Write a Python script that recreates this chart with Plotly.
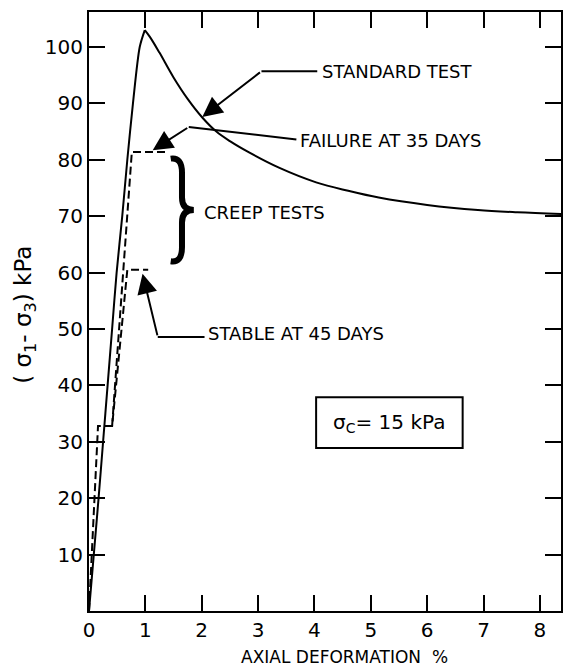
import plotly.graph_objects as go

# Standard test curve (axial deformation %, deviator stress kPa)
rise_x = [0, 0.085, 0.17, 0.25, 0.33, 0.41, 0.49, 0.59, 0.68, 0.78, 0.90, 0.99]
rise_y = [0, 10, 20, 30, 40, 50, 60, 70, 80, 90, 100, 103]
decay_x = [0.99, 1.08, 1.25, 1.50, 1.75, 2.01, 2.26, 2.50, 2.84, 3.37, 4.03, 4.60,
           5.14, 6.00, 6.90, 7.60, 8.38]
decay_y = [103, 101.8, 99.0, 94.6, 90.8, 87.5, 85.0, 83.3, 81.3, 78.6, 76.0, 74.5,
           73.3, 72.0, 71.1, 70.7, 70.4]

# Creep tests (dashed)
creepA_x = [0, 0.16, 0.41, 0.68, 1.05]
creepA_y = [0, 32.8, 32.8, 60.5, 60.5]
creepB_x = [0.41, 0.76, 1.38]
creepB_y = [32.8, 81.4, 81.4]

x_ticks = [0, 1, 2, 3, 4, 5, 6, 7, 8]
y_ticks = [10, 20, 30, 40, 50, 60, 70, 80, 90, 100]

FONT = "DejaVu Sans"
fig = go.Figure()
fig.add_trace(go.Scatter(x=rise_x, y=rise_y, mode="lines", line_shape="spline",
                         line=dict(color="black", width=2, smoothing=0.8), showlegend=False))
fig.add_trace(go.Scatter(x=decay_x, y=decay_y, mode="lines", line_shape="spline",
                         line=dict(color="black", width=2, smoothing=1.0), showlegend=False))
fig.add_trace(go.Scatter(x=creepA_x, y=creepA_y, mode="lines",
                         line=dict(color="black", width=2, dash="8px,4px"), showlegend=False))
fig.add_trace(go.Scatter(x=creepB_x, y=creepB_y, mode="lines",
                         line=dict(color="black", width=2, dash="8px,4px"), showlegend=False))

shapes = []
annotations = []

def leader(x0, y0, x1, y1):
    shapes.append(dict(type="line", xref="x", yref="y", x0=x0, y0=y0, x1=x1, y1=y1,
                       line=dict(color="black", width=2)))

def arrow(ax, ay, x, y):
    annotations.append(dict(x=x, y=y, ax=ax, ay=ay, xref="x", yref="y", axref="x", ayref="y",
                            text="", showarrow=True, arrowhead=2, arrowsize=2.0,
                            arrowwidth=2, arrowcolor="black", standoff=0))

def label(x, y, text, size=18, xanchor="left"):
    annotations.append(dict(x=x, y=y, xref="x", yref="y", text=text, showarrow=False,
                            xanchor=xanchor, yanchor="middle",
                            font=dict(family=FONT, size=size, color="black")))

# Standard test
leader(4.05, 95.7, 3.06, 95.7)
arrow(3.06, 95.7, 2.01, 87.6)
label(4.10, 95.6, "STANDARD TEST")
# Failure at 35 days
leader(3.68, 83.6, 1.77, 85.8)
arrow(1.77, 85.8, 1.13, 81.7)
label(3.71, 83.5, "FAILURE AT 35 DAYS")
# Stable at 45 days
leader(2.05, 48.6, 1.22, 48.6)
arrow(1.22, 48.6, 0.95, 59.8)
label(2.07, 49.2, "STABLE AT 45 DAYS")
# Creep tests + brace
label(2.00, 70.7, "CREEP TESTS")
x0, xm, xt = 1.45, 1.65, 1.86
yt, ymid, yb = 80.2, 71.1, 62.0
brace = (f"M {x0},{yt} Q {xm},{yt+0.3} {xm},{yt-2.5} L {xm},{ymid+2.2} "
         f"Q {xm},{ymid} {xt},{ymid} Q {xm},{ymid} {xm},{ymid-2.2} "
         f"L {xm},{yb+2.5} Q {xm},{yb-0.3} {x0},{yb}")
shapes.append(dict(type="path", xref="x", yref="y", path=brace,
                   line=dict(color="black", width=6)))

# sigma_c box
shapes.append(dict(type="rect", xref="x", yref="y", x0=4.03, x1=6.63, y0=28.9, y1=37.9,
                   line=dict(color="black", width=2)))
label(5.32, 33.4, "σ<sub>C</sub>= 15 kPa", size=20, xanchor="center")

# Axis titles
annotations.append(dict(x=-0.135, y=0.495, xref="paper", yref="paper",
                        text="( σ<sub>1</sub>- σ<sub>3</sub>) kPa", textangle=-90,
                        showarrow=False, xanchor="center", yanchor="middle",
                        font=dict(family=FONT, size=23, color="black")))
annotations.append(dict(x=0.542, y=-0.076, xref="paper", yref="paper",
                        text="AXIAL DEFORMATION&nbsp;&nbsp;%", showarrow=False,
                        xanchor="center", yanchor="middle",
                        font=dict(family=FONT, size=17, color="black")))

fig.update_layout(
    width=563, height=669,
    margin=dict(l=89, r=0, t=12, b=58),
    paper_bgcolor="white", plot_bgcolor="white",
    font=dict(family=FONT, size=18, color="black"),
    shapes=shapes, annotations=annotations, showlegend=False,
)
fig.update_xaxes(range=[0, 8.375], tickvals=x_ticks, ticktext=[str(v) for v in x_ticks],
                 ticks="inside", ticklen=16, tickwidth=2, tickcolor="black",
                 showline=True, linewidth=2, linecolor="black", mirror="ticks",
                 showgrid=False, zeroline=False, tickfont=dict(size=20))
fig.update_yaxes(range=[0, 106.2], tickvals=y_ticks, ticktext=[str(v) for v in y_ticks],
                 ticks="inside", ticklen=16, tickwidth=2, tickcolor="black",
                 showline=True, linewidth=2, linecolor="black", mirror="ticks",
                 showgrid=False, zeroline=False, tickfont=dict(size=20))

fig.write_html("out.html")
